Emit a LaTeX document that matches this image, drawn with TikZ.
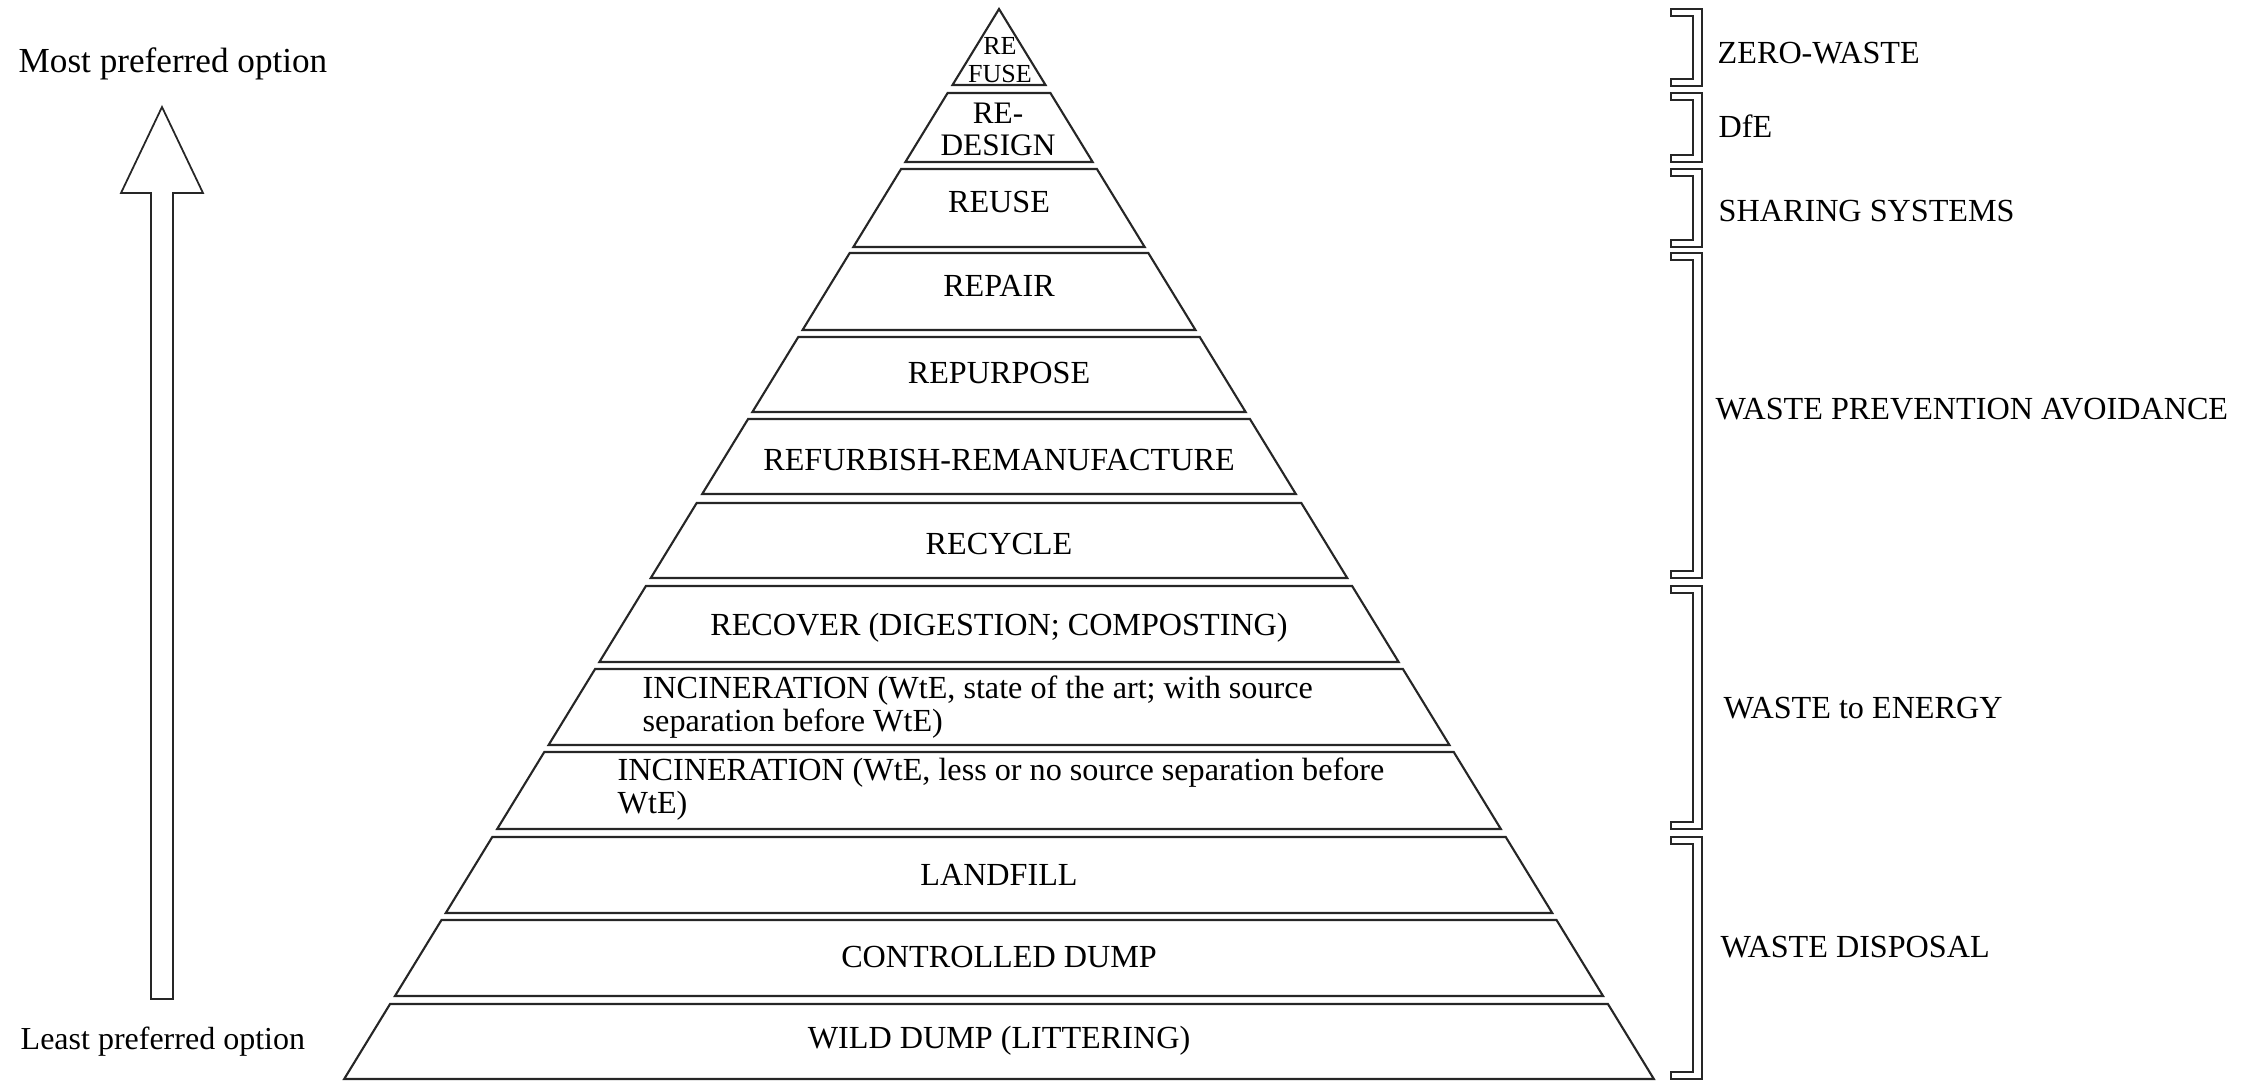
\documentclass[tikz,border=0pt]{standalone}
\usepackage{fontspec}
\setmainfont{Liberation Serif}
\begin{document}
\begin{tikzpicture}[x=0.01cm,y=-0.01cm,
  layer/.style={draw=black!85,line width=0.6pt,line join=miter},
  brk/.style={draw=black!85,line width=0.45pt},
  lbl/.style={inner sep=0pt,anchor=base,font=\fontsize{9.15}{7.4}\selectfont},
  side/.style={inner sep=0pt,anchor=base west,font=\fontsize{9.15}{7.4}\selectfont},
  multi/.style={inner sep=0pt,anchor=north west,align=left,font=\fontsize{9.15}{7.4}\selectfont}]
\useasboundingbox (0,0) rectangle (2267,1081);
% pyramid top triangle
\draw[layer] (999,9) -- ({999+0.612*76},85) -- ({999-0.612*76},85) -- cycle;
% trapezoid layers
\foreach \t/\b in {93/162,169/247,253/330,337/412,419/494,503/578,586/662,669/745,752/829,837/913,920/996,1004/1079}{
  \draw[layer] ({999-0.612*(\t-9)},\t) -- ({999+0.612*(\t-9)},\t) -- ({999+0.612*(\b-9)},\b) -- ({999-0.612*(\b-9)},\b) -- cycle;
}
% layer texts
\node[inner sep=0pt,align=center,font=\fontsize{7.4}{8}\selectfont] (refuse) at (1000,60) {RE\\FUSE};
\node[inner sep=0pt,align=center,font=\fontsize{8.9}{9.1}\selectfont] (redesign) at (998,129) {RE-\\DESIGN};
\node[lbl] (reuse) at (999,212) {REUSE};
\node[lbl] (repair) at (999,296) {REPAIR};
\node[lbl] (repurpose) at (999,383) {REPURPOSE};
\node[lbl] (refurbish) at (999,470) {REFURBISH-REMANUFACTURE};
\node[lbl] (recycle) at (999,554) {RECYCLE};
\node[lbl] (recover) at (999,635) {RECOVER (DIGESTION; COMPOSTING)};
\node[multi] (incinA) at (642,675) {INCINERATION (WtE, state of the art; with source\\separation before WtE)};
\node[multi] (incinB) at (617,757) {INCINERATION (WtE, less or no source separation before\\WtE)};
\node[lbl] (landfill) at (999,885) {LANDFILL};
\node[lbl] (controlled) at (999,967) {CONTROLLED DUMP};
\node[lbl] (wild) at (999,1048) {WILD DUMP (LITTERING)};
% brackets
\foreach \t/\b in {9/86,93/162,169/247,253/578,586/829,837/1079}{
  \draw[brk] (1671,\t) -- (1702,\t) -- (1702,\b) -- (1671,\b) -- (1671,\b-7) -- (1693,\b-7) -- (1693,\t+7) -- (1671,\t+7) -- cycle;
}
% side labels
\node[side] (zw) at (1717,63) {ZERO-WASTE};
\node[side] (dfe) at (1718,137) {DfE};
\node[side] (share) at (1718,221) {SHARING SYSTEMS};
\node[side] (prev) at (1715,419) {WASTE PREVENTION AVOIDANCE};
\node[side] (wte) at (1723,718) {WASTE to ENERGY};
\node[side] (disp) at (1720,957) {WASTE DISPOSAL};
% left arrow and labels
\draw[brk,line width=0.5pt] (162,107) -- (203,193) -- (173,193) -- (173,999) -- (151,999) -- (151,193) -- (121,193) -- cycle;
\node[inner sep=0pt,anchor=base west,font=\fontsize{10}{12}\selectfont] (most) at (18,72) {Most preferred option};
\node[inner sep=0pt,anchor=base west,font=\fontsize{9.1}{11}\selectfont] (least) at (20,1049) {Least preferred option};
\end{tikzpicture}
\end{document}
